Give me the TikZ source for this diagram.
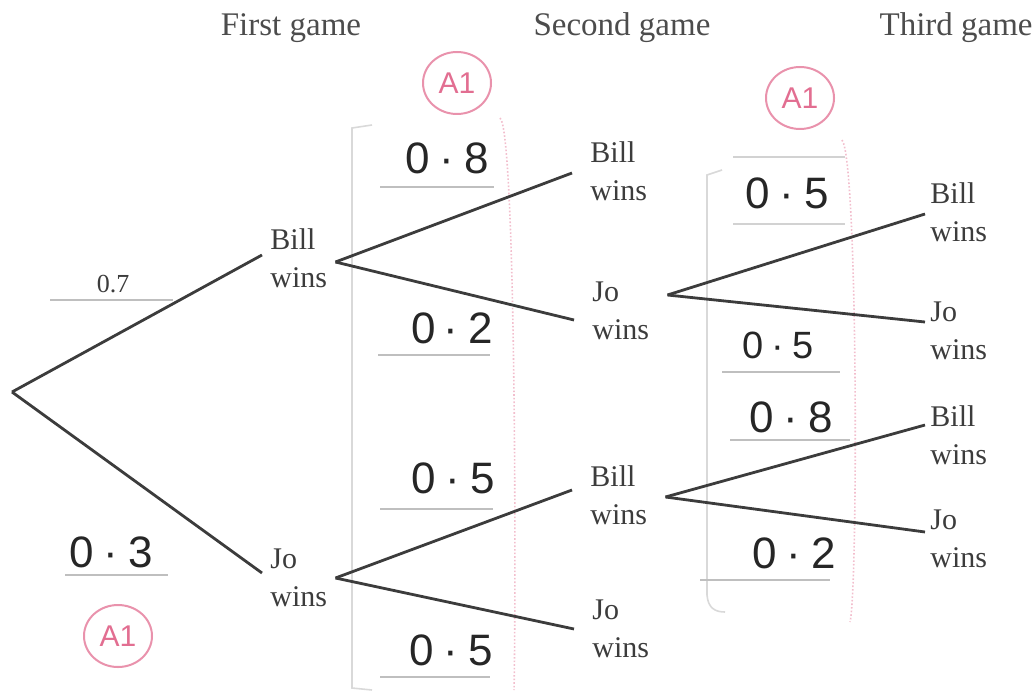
\documentclass[tikz,border=0pt]{standalone}
\usepackage{fontspec}
\setmainfont{Liberation Serif}
\newfontfamily\handfont{Liberation Sans}
\definecolor{markpink}{RGB}{226,110,145}
\definecolor{inkgrey}{RGB}{60,60,60}
\tikzset{
  branch/.style={line width=1.4pt, draw=inkgrey},
  outcome/.style={anchor=west, align=left, inner ysep=0pt,
    font=\fontsize{15}{19}\selectfont, text=inkgrey},
  colone/.style={outcome, inner xsep=4pt},
  coltwo/.style={outcome, inner xsep=9pt},
  colthree/.style={outcome, inner xsep=2.5pt},
  heading/.style={font=\fontsize{16.5}{19}\selectfont, text=black!70, inner sep=0pt},
  prob/.style={font=\handfont\fontsize{22}{24}\selectfont, text=black!85, inner sep=0pt},
  answerline/.style={draw=gray!50, line width=0.9pt},
  bracketgrey/.style={draw=gray!30, line width=0.8pt},
  bracketpink/.style={draw=markpink!45, line width=0.8pt, densely dotted},
  markring/.style={ellipse, draw=markpink!75, line width=1pt, text=markpink,
    minimum width=34pt, minimum height=31pt, inner sep=0pt,
    font=\handfont\fontsize{15}{16}\selectfont}
}
\usetikzlibrary{shapes.geometric}
\begin{document}
\begin{tikzpicture}[x=0.5pt, y=-0.5pt]
\useasboundingbox (0,0) rectangle (1036,695);

% column headings
\node[heading] (h1) at (291,28) {First game};
\node[heading] (h2) at (622,28) {Second game};
\node[heading, anchor=east] (h3) at (1033,28) {Third game};

% faint brackets round the answer columns
\draw[bracketgrey] (372,125) -- (352,128) -- (352,688) -- (372,690);
\draw[bracketpink] (500,118) .. controls (516,130) and (516,600) .. (514,690);
\draw[bracketgrey] (722,170) -- (707,175) -- (707,595) .. controls (708,608) and (715,612) .. (725,612);
\draw[bracketpink] (842,140) .. controls (858,160) and (858,590) .. (850,622);

% outcomes
\coordinate (root) at (12,392);
\node[colone] (b1) at (262,258) {Bill\\wins};
\node[colone] (j1) at (262,578) {Jo\\wins};
\node[coltwo] (b2) at (572,171) {Bill\\wins};
\node[coltwo] (j2) at (574,311) {Jo\\wins};
\node[coltwo] (b2l) at (572,495) {Bill\\wins};
\node[coltwo] (j2l) at (574,629) {Jo\\wins};
\node[colthree] (b3a) at (925,212) {Bill\\wins};
\node[colthree] (j3a) at (925,331) {Jo\\wins};
\node[colthree] (b3b) at (925,435) {Bill\\wins};
\node[colthree] (j3b) at (925,539) {Jo\\wins};

% branches
\draw[branch] (root) -- ([yshift=1.5pt]b1.west);
\draw[branch] (root) -- ([yshift=2.5pt]j1.west);
\draw[branch] ([yshift=-2pt]b1.east) -- ([yshift=-1pt]b2.west);
\draw[branch] ([yshift=-2pt]b1.east) -- ([yshift=-4.5pt]j2.west);
\draw[branch] (j1.east) -- ([yshift=2.5pt]b2l.west);
\draw[branch] (j1.east) -- (j2l.west);
\draw[branch] ([yshift=8pt]j2.east) -- ([yshift=-1pt]b3a.west);
\draw[branch] ([yshift=8pt]j2.east) -- ([yshift=4.5pt]j3a.west);
\draw[branch] ([yshift=-1pt]b2l.east) -- ([yshift=5pt]b3b.west);
\draw[branch] ([yshift=-1pt]b2l.east) -- ([yshift=3.5pt]j3b.west);

% printed probability
\node[font=\fontsize{13}{15}\selectfont, text=inkgrey, inner sep=0pt] (p07) at (113,284) {0.7};
\draw[answerline] (50,300) -- (173,300);

% answer lines
\draw[answerline] (65,575) -- (168,575);
\draw[answerline] (380,187) -- (494,187);
\draw[answerline] (378,355) -- (490,355);
\draw[answerline] (380,509) -- (493,509);
\draw[answerline] (380,677) -- (490,677);
\draw[answerline, draw=gray!35] (733,157) -- (845,157);
\draw[answerline, draw=gray!35] (733,224) -- (845,224);
\draw[answerline] (722,372) -- (840,372);
\draw[answerline] (730,440) -- (850,440);
\draw[answerline] (700,580) -- (830,580);

% handwritten probabilities
\node[prob] (q03) at (111,552) {0\hspace{5pt}·\hspace{5pt}3};
\node[prob] (q08a) at (447,158) {0\hspace{5pt}·\hspace{5pt}8};
\node[prob] (q02a) at (452,328) {0\hspace{4pt}·\hspace{5pt}2};
\node[prob] (q05a) at (453,478) {0\hspace{5pt}·\hspace{5pt}5};
\node[prob] (q05b) at (451,650) {0\hspace{5pt}·\hspace{5pt}5};
\node[prob] (q05c) at (787,193) {0\hspace{5pt}·\hspace{5pt}5};
\node[prob, font=\handfont\fontsize{19}{21}\selectfont] (q05d) at (778,345) {0\hspace{4pt}·\hspace{4pt}5};
\node[prob] (q08b) at (791,417) {0\hspace{5pt}·\hspace{5pt}8};
\node[prob] (q02b) at (794,553) {0\hspace{5pt}·\hspace{5pt}2};

% examiner marks
\node[markring] (m1) at (457,83) {A1};
\node[markring] (m2) at (800,98) {A1};
\node[markring] (m3) at (118,636) {A1};
\end{tikzpicture}
\end{document}
